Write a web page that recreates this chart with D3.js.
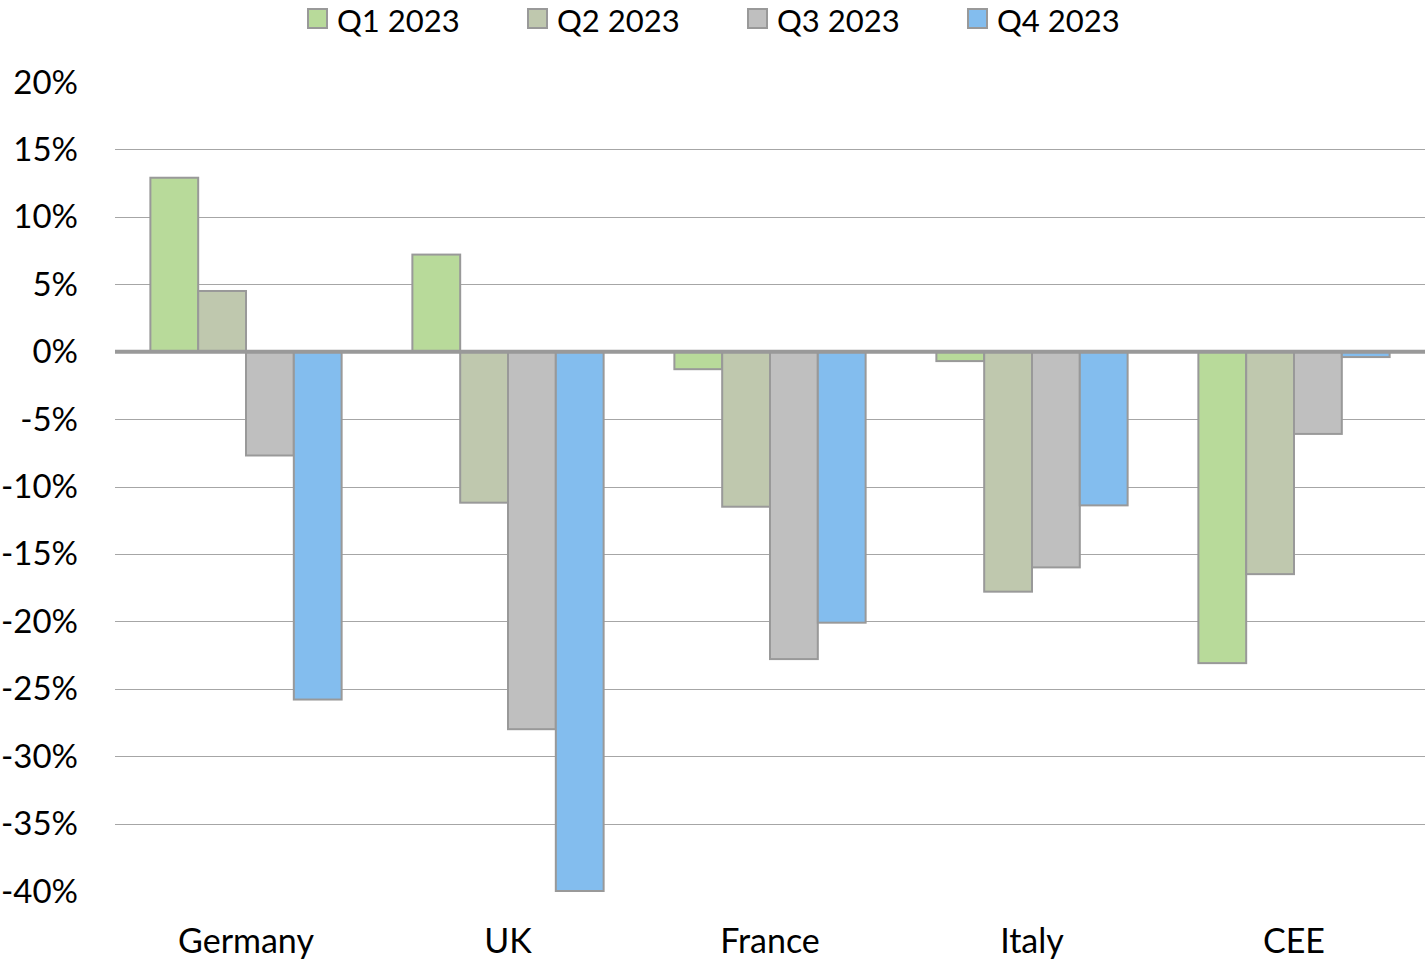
<!DOCTYPE html>
<html>
<head>
<meta charset="utf-8">
<script src="https://cdn.jsdelivr.net/npm/d3@7"></script>
<style>
  body { margin: 0; background: #fff; }
  text { font-family: Lato, "Open Sans", sans-serif; fill: #000; }
</style>
</head>
<body>
<svg id="chart"></svg>
<script>
const width = 1427
const height = 962

// data
const countries = ["Germany", "UK", "France", "Italy", "CEE"]
const quarters = ["Q1 2023", "Q2 2023", "Q3 2023", "Q4 2023"]
const q1 = [12.9, 7.2, -1.3, -0.7, -23.1]
const q2 = [4.5, -11.2, -11.5, -17.8, -16.5]
const q3 = [-7.7, -28.0, -22.8, -16.0, -6.1]
const q4 = [-25.8, -40.0, -20.1, -11.4, -0.4]
const yTicks = [20, 15, 10, 5, 0, -5, -10, -15, -20, -25, -30, -35, -40]
const colors = ["#b8da9a", "#bfc8ae", "#bfbfbf", "#83bdee"]

const series = [q1, q2, q3, q4]

const margin = {left: 115, right: 2, top: 82, bottom: 71}

const svg = d3.select("#chart")
  .attr("width", width)
  .attr("height", height)

const y = d3.scaleLinear()
  .domain([-40, 20])
  .range([height - margin.bottom, margin.top])

const x = d3.scaleBand()
  .domain(countries)
  .range([margin.left, width - margin.right])
  .paddingInner(0.27)
  .paddingOuter(0.135)

const xq = d3.scaleBand()
  .domain(quarters)
  .range([0, x.bandwidth()])

// gridlines (none at the top or bottom)
svg.append("g")
  .selectAll("line")
  .data(yTicks.filter(d => d < 20 && d > -40 && d !== 0))
  .join("line")
  .attr("x1", margin.left)
  .attr("x2", width - margin.right)
  .attr("y1", d => Math.round(y(d)) + 0.5)
  .attr("y2", d => Math.round(y(d)) + 0.5)
  .attr("stroke", "#a6a6a6")
  .attr("stroke-width", 1)

// y tick labels
svg.append("g")
  .selectAll("text")
  .data(yTicks)
  .join("text")
  .attr("x", 78)
  .attr("y", d => y(d))
  .attr("dy", "0.35em")
  .attr("text-anchor", "end")
  .style("font-size", "33px")
  .text(d => d + "%")

// bars
const groups = svg.append("g")
  .selectAll("g")
  .data(countries)
  .join("g")
  .attr("transform", d => `translate(${x(d)},0)`)

groups.selectAll("rect")
  .data((c, i) => quarters.map((q, j) => ({q: q, j: j, v: series[j][i]})))
  .join("rect")
  .attr("x", d => xq(d.q))
  .attr("width", xq.bandwidth())
  .attr("y", d => y(Math.max(0, d.v)))
  .attr("height", d => Math.abs(y(d.v) - y(0)))
  .attr("fill", d => colors[d.j])
  .attr("stroke", "#999")
  .attr("stroke-width", 2)

// zero line
svg.append("line")
  .attr("x1", margin.left)
  .attr("x2", width - margin.right)
  .attr("y1", y(0))
  .attr("y2", y(0))
  .attr("stroke", "#999")
  .attr("stroke-width", 4)

// category labels
svg.append("g")
  .selectAll("text")
  .data(countries)
  .join("text")
  .attr("x", d => x(d) + x.bandwidth() / 2)
  .attr("y", 941)
  .attr("dy", "0.35em")
  .attr("text-anchor", "middle")
  .style("font-size", "34px")
  .text(d => d)

// legend
const legend = svg.append("g")
  .selectAll("g")
  .data(quarters)
  .join("g")
  .attr("transform", (d, i) => `translate(${308 + i * 220},0)`)

legend.append("rect")
  .attr("x", 0)
  .attr("y", 9)
  .attr("width", 19)
  .attr("height", 19)
  .attr("fill", (d, i) => colors[i])
  .attr("stroke", "#999")
  .attr("stroke-width", 2)

legend.append("text")
  .attr("x", 29)
  .attr("y", 21)
  .attr("dy", "0.35em")
  .style("font-size", "31px")
  .text(d => d)
</script>
</body>
</html>
